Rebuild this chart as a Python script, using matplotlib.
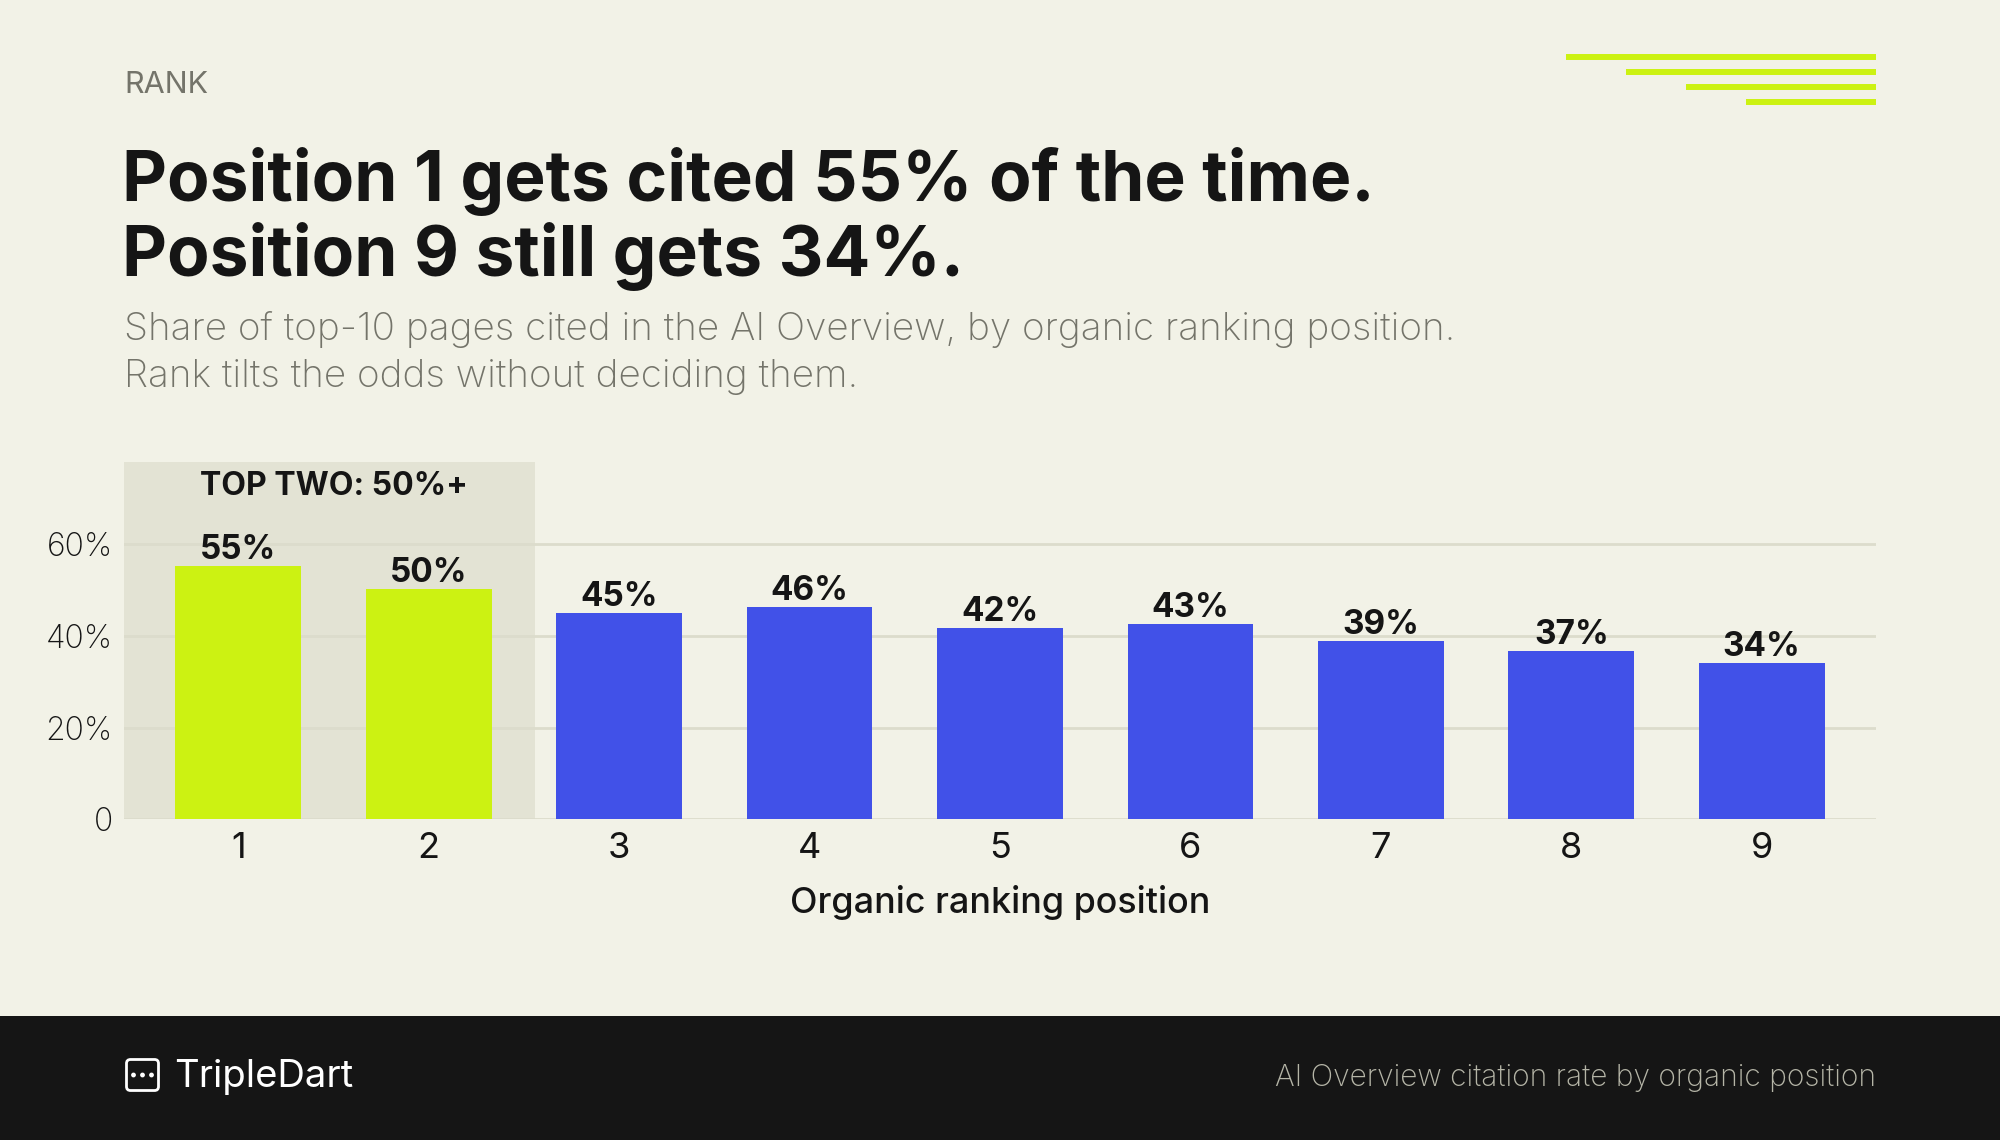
import matplotlib.pyplot as plt
from matplotlib.patches import Rectangle, FancyBboxPatch, Circle

# data
positions = [1, 2, 3, 4, 5, 6, 7, 8, 9]
cite_rate = [55.3, 50.3, 45.0, 46.3, 41.8, 42.6, 38.9, 36.8, 34.1]
top_group = 2
y_ticks = [0, 20, 40, 60]
y_tick_labels = ['0', '20%', '40%', '60%']

kicker = 'RANK'
title_lines = ['Position 1 gets cited 55% of the time.',
               'Position 9 still gets 34%.']
subtitle_lines = ['Share of top-10 pages cited in the AI Overview, by organic ranking position.',
                  'Rank tilts the odds without deciding them.']
band_label = 'TOP TWO: 50%+'
x_label = 'Organic ranking position'
brand = 'TripleDart'
footer_note = 'AI Overview citation rate by organic position'

BG = '#F2F2E7'
BAND = '#E3E3D4'
GRID = '#DCDCCC'
LIME = '#CCF212'
BLUE = '#4151E8'
DARK = '#151515'
GRAY = '#74746A'
FOOTER = '#151515'
FOOT_TXT = '#B5B5A7'

plt.rcParams['font.family'] = ['Inter', 'DejaVu Sans']

W, H = 2000, 1140
fig = plt.figure(figsize=(20, 11.4), dpi=100, facecolor=BG)

# page furniture, drawn in pixel coordinates
deco = fig.add_axes([0, 0, 1, 1], zorder=0)
deco.set_xlim(0, W)
deco.set_ylim(H, 0)
deco.axis('off')
deco.patch.set_alpha(0)

deco.add_patch(Rectangle((0, 1016), W, H - 1016, color=FOOTER, lw=0))
for i in range(4):
    y = 57 + 15 * i
    deco.plot([1566 + 60 * i, 1876], [y, y], color=LIME, lw=4.3, solid_capstyle='butt')

deco.text(124, 93, kicker, fontsize=22, color=GRAY, va='baseline')
for line, base in zip(title_lines, [201, 276]):
    deco.text(122, base, line, fontsize=50, fontweight='bold', color=DARK, va='baseline')
for line, base in zip(subtitle_lines, [340, 387]):
    deco.text(124, base, line, fontsize=27.8, fontweight='light', color=GRAY, va='baseline')

# footer
deco.add_patch(FancyBboxPatch((126.5, 1059.5), 32, 31, boxstyle='round,pad=0,rounding_size=4',
                              fill=False, ec='white', lw=2.0))
for cx in [133.5, 142.5, 151.5]:
    deco.add_patch(Circle((cx, 1075), 2.4, color='white', lw=0))
deco.text(174, 1087, brand, fontsize=27.5, color='white', va='baseline')
deco.text(1876, 1086, footer_note, fontsize=21.6, fontweight='light', color=FOOT_TXT,
          ha='right', va='baseline')

# chart
ax = fig.add_axes([124 / W, (H - 819.4) / H, 1752 / W, (819.4 - 462) / H], zorder=1)
ax.patch.set_alpha(0)
ax.set_xlim(0.4, 9.6)
ax.set_ylim(0, 78)

ax.axvspan(0.4, 2.56, color=BAND, lw=0, zorder=0)
colors = [LIME if p <= top_group else BLUE for p in positions]
bars = ax.bar(positions, cite_rate, width=0.66, color=colors, zorder=3)
ax.bar_label(bars, labels=[f'{v:.0f}%' for v in cite_rate], padding=0,
             fontsize=24, fontweight='bold', color=DARK)
ax.text(1.5, 70.7, band_label, ha='center', va='baseline', fontsize=23,
        fontweight='bold', color=DARK)

ax.set_yticks(y_ticks, y_tick_labels)
ax.set_xticks(positions)
ax.tick_params(axis='y', length=0, pad=8, labelsize=23, labelcolor=DARK)
ax.tick_params(axis='x', length=0, pad=9, labelsize=26, labelcolor=DARK)
for t in ax.get_yticklabels():
    t.set_fontweight('light')
ax.grid(axis='y', color=GRID, lw=2)
ax.set_axisbelow(True)
for s in ax.spines.values():
    s.set_visible(False)

ax.set_xlabel(x_label, fontsize=25.8, fontweight='medium', color=DARK)
ax.xaxis.set_label_coords(0.5, -(913 - 819.4) / (819.4 - 462))
ax.xaxis.label.set_va('baseline')

fig.savefig('out.png', dpi=100, facecolor=BG)
